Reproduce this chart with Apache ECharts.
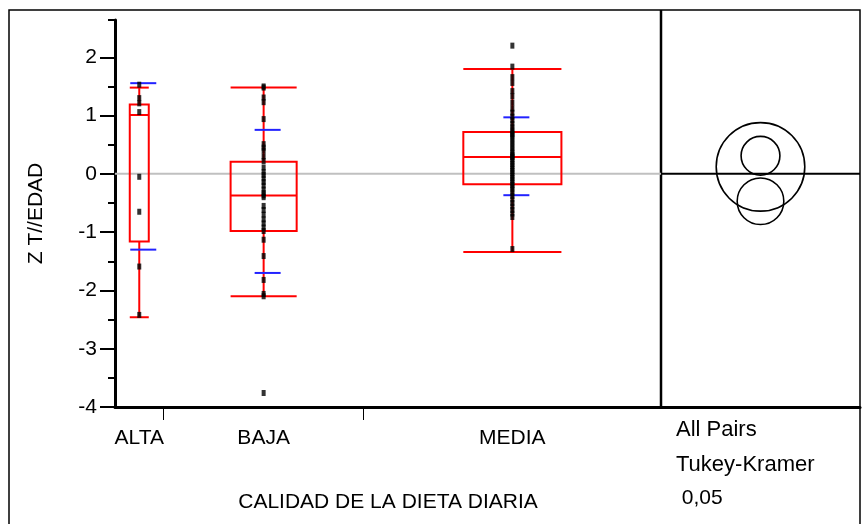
<!DOCTYPE html>
<html><head><meta charset="utf-8">
<script src="https://cdn.jsdelivr.net/npm/echarts@6/dist/echarts.min.js"></script>
<style>html,body{margin:0;padding:0;background:#fff}#c{width:864px;height:524px}</style>
</head><body><div id="c"></div>
<script>
// ---- data ----
const categories = ['ALTA', 'BAJA', 'MEDIA'];
const groupSizes = [8, 33, 49];
const altaValues = [1.53, 1.30, 1.21, 1.06, -0.05, -0.65, -1.59, -2.42];
const bajaValues = [1.50, 1.48, 1.31, 1.23, 0.94, 0.51, 0.45, 0.40, 0.30, 0.22, 0.11, 0.03,
  -0.02, -0.08, -0.14, -0.20, -0.27, -0.33, -0.37, -0.40, -0.55, -0.62, -0.70, -0.78,
  -0.85, -0.92, -0.98, -1.13, -1.41, -1.82, -2.06, -2.10, -3.76];
const mediaValues = [2.20, 1.84, 1.66, 1.56, 1.42, 1.33, 1.22, 1.12, 1.05, 0.98, 0.92, 0.86,
  0.80, 0.75, 0.70, 0.68, 0.65, 0.60, 0.55, 0.50, 0.45, 0.40, 0.36, 0.32, 0.30, 0.29, 0.25,
  0.21, 0.17, 0.13, 0.09, 0.05, 0.01, -0.03, -0.07, -0.11, -0.15, -0.19, -0.23, -0.27,
  -0.33, -0.38, -0.44, -0.50, -0.56, -0.62, -0.68, -0.74, -1.29];
// [low whisker, q1, median, q3, high whisker]
const boxAlta = [-2.46, -1.16, 1.01, 1.19, 1.48];
const boxBaja = [-2.10, -0.98, -0.37, 0.21, 1.48];
const boxMedia = [-1.34, -0.18, 0.29, 0.72, 1.80];
// mean + sd, mean - sd
const sdAlta = [1.556, -1.30];
const sdBaja = [0.755, -1.70];
const sdMedia = [0.97, -0.366];
// comparison circles (Tukey-Kramer 0,05)
const circleMeans = [0.12, -0.47, 0.31];
const circleRadii = [0.76, 0.40, 0.333];
const yTicks = [-4, -3, -2, -1, 0, 1, 2];
const yMinorTicks = [-3.5, -2.5, -1.5, -0.5, 0.5, 1.5];
const yMin = -4, yMax = 2.64;
const sideTexts = ['All Pairs', 'Tukey-Kramer', ' 0,05'];

// ---- derived ----
const total = groupSizes.reduce((a, b) => a + b, 0);
const starts = [], centers = [];
let acc = 0;
groupSizes.forEach(n => { starts.push(acc); centers.push(acc + n / 2); acc += n; });
const bounds = starts.slice(1);
const boxes = [boxAlta, boxBaja, boxMedia];
const sds = [sdAlta, sdBaja, sdMedia];
const groups = [altaValues, bajaValues, mediaValues];
const FONT = '"Liberation Sans", Arial, sans-serif';
const FS = 21;

const boxData = boxes.map((b, i) => [centers[i], ...b, ...sds[i], groupSizes[i]]);
const pointData = [];
groups.forEach((g, i) => g.forEach(v => pointData.push([centers[i], v])));

const chart = echarts.init(document.getElementById('c'), null, {renderer: 'canvas'});
chart.setOption({
  animation: false,
  backgroundColor: '#fff',
  grid: [
    {left: 115, right: 203, top: 20, bottom: 117},
    {left: 661, right: 4, top: 20, bottom: 117}
  ],
  xAxis: [
    {
      type: 'value', gridIndex: 0, min: 0, max: total,
      axisLine: {show: true, onZero: false, lineStyle: {color: '#000', width: 3}},
      axisTick: {show: true, customValues: bounds, length: 13, lineStyle: {color: '#000', width: 1}},
      axisLabel: {show: true, customValues: centers, margin: 21, color: '#000', fontSize: FS, fontFamily: FONT,
        formatter: v => { const k = centers.findIndex(c => Math.abs(c - v) < 1e-6); return k >= 0 ? categories[k] : ''; }},
      splitLine: {show: false},
      name: 'CALIDAD DE LA DIETA DIARIA', nameLocation: 'middle', nameGap: 85,
      nameTextStyle: {color: '#000', fontSize: FS, fontFamily: FONT}
    },
    {
      type: 'value', gridIndex: 1, min: 0, max: 1,
      axisLine: {show: true, onZero: false, lineStyle: {color: '#000', width: 3}},
      axisTick: {show: false}, axisLabel: {show: false}, splitLine: {show: false}
    }
  ],
  yAxis: [
    {
      type: 'value', gridIndex: 0, min: yMin, max: yMax, position: 'left',
      axisLine: {show: true, onZero: false, lineStyle: {color: '#000', width: 3}},
      axisTick: {show: true, customValues: yTicks, length: 15, lineStyle: {color: '#000', width: 2}},
      axisLabel: {show: true, customValues: yTicks, margin: 18, color: '#000', fontSize: FS, fontFamily: FONT},
      splitLine: {show: false},
      name: 'Z T//EDAD', nameLocation: 'middle', nameGap: 68,
      nameTextStyle: {color: '#000', fontSize: FS, fontFamily: FONT}
    },
    {
      type: 'value', gridIndex: 0, min: yMin, max: yMax, position: 'left',
      axisLine: {show: false, onZero: false},
      axisTick: {show: true, customValues: yMinorTicks.concat([yMax]), length: 7, lineStyle: {color: '#000', width: 2}},
      axisLabel: {show: false}, splitLine: {show: false}
    },
    {
      type: 'value', gridIndex: 1, min: yMin, max: yMax,
      axisLine: {show: false}, axisTick: {show: false}, axisLabel: {show: false}, splitLine: {show: false}
    }
  ],
  series: [
    {
      type: 'line', xAxisIndex: 0, yAxisIndex: 0, data: [[0, 0], [total, 0]], showSymbol: false, z: 1,
      lineStyle: {color: '#c0c0c0', width: 2}, silent: true
    },
    {
      type: 'custom', xAxisIndex: 0, yAxisIndex: 0, z: 2, data: boxData,
      renderItem: (params, api) => {
        const cx = api.value(0);
        const low = api.value(1), q1 = api.value(2), med = api.value(3), q3 = api.value(4), high = api.value(5);
        const sdHi = api.value(6), sdLo = api.value(7), n = api.value(8);
        const catW = api.size([n, 0])[0];
        const hw = Math.max(catW * 0.33, 19) / 2;
        const px = api.coord([cx, 0])[0];
        const y = v => api.coord([cx, v])[1];
        const red = {stroke: '#ff0000', lineWidth: 2, fill: null};
        const blue = {stroke: '#2222ff', lineWidth: 2};
        const L = (x1, y1, x2, y2, st) => ({type: 'line', shape: {x1, y1, x2, y2}, style: st});
        const bx = px + 4;
        return {type: 'group', children: [
          {type: 'rect', shape: {x: px - hw, y: y(q3), width: 2 * hw, height: y(q1) - y(q3)}, style: red},
          L(px - hw, y(med), px + hw, y(med), red),
          L(px, y(q3), px, y(high), red),
          L(px, y(q1), px, y(low), red),
          L(px - hw, y(high), px + hw, y(high), red),
          L(px - hw, y(low), px + hw, y(low), red),
          L(bx - 13, y(sdHi), bx + 13, y(sdHi), blue),
          L(bx - 13, y(sdLo), bx + 13, y(sdLo), blue)
        ]};
      }
    },
    {
      type: 'scatter', xAxisIndex: 0, yAxisIndex: 0, z: 3, data: pointData,
      symbol: 'rect', symbolSize: [4, 6], itemStyle: {color: '#000'}, silent: true
    },
    {
      type: 'line', xAxisIndex: 1, yAxisIndex: 2, data: [[0, 0], [1, 0]], showSymbol: false, z: 2,
      lineStyle: {color: '#000', width: 2}, silent: true
    },
    {
      type: 'custom', xAxisIndex: 1, yAxisIndex: 2, z: 3,
      data: circleMeans.map((m, i) => [0.5, m, circleRadii[i]]),
      renderItem: (params, api) => {
        const c = api.coord([api.value(0), api.value(1)]);
        const r = api.size([0, api.value(2)])[1];
        return {type: 'circle', shape: {cx: c[0], cy: c[1], r: r}, style: {stroke: '#000', lineWidth: 1.6, fill: null}};
      }
    }
  ],
  graphic: [
    {type: 'rect', shape: {x: 9, y: 10, width: 851, height: 560}, style: {stroke: '#000', lineWidth: 1.5, fill: null}, silent: true},
    {type: 'line', shape: {x1: 661, y1: 10, x2: 661, y2: 407}, style: {stroke: '#000', lineWidth: 2.5}, silent: true},
    ...sideTexts.map((t, i) => ({type: 'text', left: 676, top: 428 + i * 34.5 - 9,
      style: {text: t, fill: '#000', font: (i < 2 ? 22 : FS) + 'px ' + FONT}, silent: true}))
  ]
});
</script></body></html>
